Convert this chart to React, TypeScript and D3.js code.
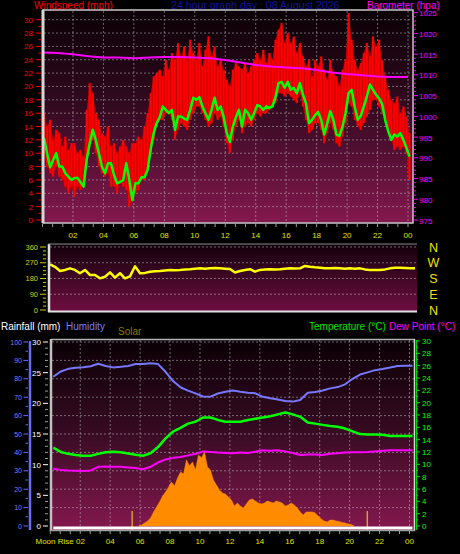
import React from "react";
import * as d3 from "d3";

// ---------- DATA ----------
const hourLabels = ["02", "04", "06", "08", "10", "12", "14", "16", "18", "20", "22", "00"];
const labelHours = [2, 4, 6, 8, 10, 12, 14, 16, 18, 20, 22, 24];

// wind (mph), sampled every 0.2 h starting 0.1 h
const windStartHour = 0.1;
const windStepHours = 0.2;
const windAvg = [
  12.3, 10.0, 7.9, 9.0, 10.0, 8.0, 8.0, 7.0, 6.5, 6.0,
  6.3, 6.3, 5.7, 5.0, 9.0, 11.5, 13.5, 12.0, 10.0, 8.0,
  7.0, 8.5, 8.5, 6.7, 5.5, 5.7, 6.0, 8.5, 6.0, 3.0,
  5.5, 5.5, 6.4, 6.4, 7.5, 10.5, 13.0, 14.5, 15.4, 17.0,
  16.5, 16.0, 16.5, 13.5, 15.5, 15.5, 15.2, 15.0, 16.5,
  18.3, 18.0, 18.4, 17.0, 16.0, 15.0, 16.5, 18.3, 16.5, 17.0,
  15.4, 13.0, 11.7, 14.0, 15.4, 16.5, 14.0, 16.5, 16.0, 15.0,
  16.0, 17.2, 17.0, 16.5, 17.0, 16.8, 17.0, 18.4, 20.5, 20.7,
  19.8, 20.7, 19.5, 19.8, 19.0, 20.5, 18.8, 17.5, 14.5, 15.0,
  15.7, 16.2, 15.0, 12.8, 14.5, 16.3, 15.0, 12.8, 12.6, 14.0,
  16.0, 19.0, 19.5, 17.0, 15.0, 15.6, 17.0, 18.5, 20.3,
  19.5, 18.8, 18.2, 17.4, 15.0, 13.3, 12.0, 12.8, 12.5, 13.0,
  12.0, 10.8, 9.5,
];
const gustHigh = [
  16, 14, 15, 12, 13.5, 13, 11, 12.5, 10.5, 11.5,
  11.5, 10, 10.5, 9.5, 16.5, 20.5, 19, 16, 15, 13,
  12.5, 14, 11, 11.5, 10, 11, 12, 11, 10, 11.5,
  11.5, 12.5, 12, 14, 16, 19, 21.5, 22, 22.5, 21.5,
  24, 22.5, 25, 24, 26.5, 24.5, 26, 24, 27, 25,
  24, 26.5, 23, 25.5, 27.5, 24.5, 26, 23, 24, 22.5,
  21, 20, 22.5, 23.5, 23, 22.5, 23.5, 22, 23, 24,
  25, 24, 25.5, 23.5, 25, 24, 27, 28.5, 29.5, 26.5,
  28, 26.5, 27.5, 25, 26.5, 24.5, 23, 24, 21.5, 24,
  23, 24.5, 22.5, 21, 24, 22, 21.5, 20, 22.5, 24,
  31, 27, 24, 22.5, 23.5, 25, 26.5, 24.5, 27.5, 26,
  27, 24, 21.5, 19.5, 18, 17.5, 18.5, 16, 17, 15.5,
  13,
];
const gustLow = [
  9.5, 8, 7, 6.5, 8, 6.5, 6, 5, 4, 5,
  3.5, 5, 4.5, 5, 8, 11, 12, 10, 8, 7,
  6.5, 7, 5, 5, 4, 5.5, 5, 4.5, 2, 3,
  4, 4.5, 6, 6, 8, 10, 12, 14, 15, 15,
  16, 16, 15, 12, 13.5, 14.5, 14, 13.5, 15, 16,
  17, 17, 16, 15, 14, 14.5, 16, 15, 15.5, 14,
  11.5, 10, 12, 14, 15, 13, 14, 14.5, 14, 15,
  16, 15.5, 16, 16, 16.5, 17, 17.5, 19, 19, 18.5,
  19, 18.5, 18, 17.5, 19, 17, 15, 13, 13.5, 14.5,
  14.5, 13.5, 11.5, 13, 14.5, 13.5, 11.5, 11, 12.5, 14.5,
  17.5, 17, 15, 14, 13.5, 14.5, 15.5, 16.5, 18, 18,
  17, 16, 15, 13.5, 12, 10.5, 11, 10.5, 11, 10,
  6,
];

// barometer (hPa), hourly
const baroHours = [0, 1, 2, 3, 4, 5, 6, 7, 8, 9, 10, 11, 12, 13, 14, 15, 16, 17, 18, 19, 20, 21, 22, 23, 24];
const baroHpa = [
  1015.4, 1015.3, 1015.0, 1014.5, 1014.2, 1014.2, 1014.0, 1014.2, 1014.3, 1014.3,
  1014.2, 1014.0, 1013.6, 1013.0, 1012.4, 1012.0, 1011.8, 1011.6, 1011.2, 1010.6,
  1010.2, 1009.9, 1009.6, 1009.5, 1009.5,
];

// wind direction (deg), every 20 minutes
const dirStartHour = 0;
const dirStepHours = 1 / 3;
const windDirDeg = [
  261, 247, 223, 229, 238, 229, 210, 229, 200, 200,
  181, 190, 215, 185, 210, 181, 192, 250, 210, 212,
  219, 222, 223, 226, 229, 227, 229, 232, 233, 236,
  238, 236, 238, 240, 238, 236, 234, 214, 223, 228,
  233, 219, 229, 231, 233, 232, 233, 236, 238, 237,
  238, 252, 247, 244, 242, 238, 238, 240, 238, 236,
  238, 236, 238, 232, 229, 229, 229, 232, 238, 242,
  242, 240, 238, 238,
];

// humidity / temperature / dew point, every 0.5 h starting 0.2 h
const thStartHour = 0.2;
const thStepHours = 0.5;
const humidityPct = [
  81.1, 84, 85.4, 86, 86.3, 86.8, 88.2, 87, 86.2, 86.5,
  87, 88, 88, 88.4, 88, 83.8, 78.8, 75.4, 73.6, 72.1,
  70.4, 70.3, 72, 73, 73.7, 73, 72.4, 72.1, 70.2, 69.4,
  68.8, 67.9, 67.6, 68.5, 72.4, 72.8, 73.6, 74.8, 75.5, 77,
  80, 82.3, 83.5, 84.7, 85.3, 86.1, 87, 87.1, 87.1,
];
const temperatureC = [
  12.7, 12.0, 11.7, 11.5, 11.4, 11.4, 11.7, 11.95, 12.05, 11.95,
  11.75, 11.55, 11.4, 11.8, 12.8, 14.2, 15.3, 15.9, 16.6, 16.9,
  17.6, 17.6, 17.2, 16.9, 16.9, 16.9, 17.2, 17.4, 17.6, 17.8,
  18.1, 18.4, 18.1, 17.7, 16.8, 16.6, 16.4, 16.2, 16.1, 15.8,
  15.35, 14.9, 14.85, 14.85, 14.8, 14.6, 14.6, 14.6, 14.6,
];
const dewPointC = [
  9.3, 9.1, 9.0, 8.95, 8.9, 9.0, 9.6, 9.65, 9.6, 9.6,
  9.5, 9.4, 9.2, 9.6, 10.3, 10.8, 11.05, 11.2, 11.45, 11.7,
  12.1, 12.0, 11.9, 11.85, 11.8, 11.9, 11.85, 12.05, 12.3, 12.2,
  12.3, 12.1, 11.85, 11.5, 11.6, 11.6, 11.5, 11.7, 11.8, 11.9,
  11.95, 11.95, 12.0, 12.1, 12.2, 12.3, 12.3, 12.3, 12.3,
];

// solar (W/m2), every 0.2 h from 5.9 h
const solarStartHour = 5.9;
const solarStepHours = 0.2;
const solarWm2 = [
  0, 5, 16, 27, 43, 76, 103, 130, 162, 184,
  211, 238, 216, 259, 292, 281, 357, 324, 346, 303,
  384, 368, 400, 319, 303, 249, 222, 195, 178, 173,
  157, 141, 108, 124, 108, 97, 119, 141, 146, 135,
  124, 119, 124, 135, 130, 124, 135, 130, 124, 108,
  114, 124, 114, 97, 76, 59, 76, 76, 76, 70,
  54, 38, 27, 22, 32, 32, 27, 24, 19, 16,
  11, 8, 0,
];

// rainfall (mm)
const rainHours = [0.2, 24.2];
const rainMm = [0, 0];

// sunrise / sunset markers (hours)
const sunEventHours = [5.47, 21.18];

// axis ticks
const windTicks = [0, 2, 4, 6, 8, 10, 12, 14, 16, 18, 20, 22, 24, 26, 28, 30];
const baroTicks = [975, 980, 985, 990, 995, 1000, 1005, 1010, 1015, 1020, 1025];
const dirTicks = [0, 90, 180, 270, 360];
const dirLetters = ["N", "E", "S", "W", "N"];
const humTicks = [0, 10, 20, 30, 40, 50, 60, 70, 80, 90, 100];
const rainTicks = [0, 5, 10, 15, 20, 25, 30];
const tempTicks = [0, 2, 4, 6, 8, 10, 12, 14, 16, 18, 20, 22, 24, 26, 28, 30];

// ---------- CHART ----------
const FONT = "'Liberation Sans', Arial, Helvetica, sans-serif";
const GRID = { stroke: "#b8b8b8", strokeOpacity: 0.55, strokeDasharray: "2,2", strokeWidth: 1 };

export default function App() {
  // top panel
  const xTop = d3.scaleLinear().domain([0, 24]).range([42.5, 408]);
  const yWind = d3.scaleLinear().domain([0, 30]).range([220, 19.7]);
  const yBaro = d3.scaleLinear().domain([975, 1025]).range([220, 12.7]);
  // middle panel
  const xMid = d3.scaleLinear().domain([0, 24]).range([50, 410]);
  const yDir = d3.scaleLinear().domain([0, 360]).range([310, 247]);
  // bottom panel
  const xBot = d3.scaleLinear().domain([0, 24]).range([50.3, 409.5]);
  const yHum = d3.scaleLinear().domain([0, 100]).range([526, 342]);
  const yRain = d3.scaleLinear().domain([0, 30]).range([526, 342]);
  const yTemp = d3.scaleLinear().domain([0, 30]).range([526, 341]);
  const ySolar = d3.scaleLinear().domain([0, 1000]).range([526, 341]);

  const windT = (i: number) => windStartHour + i * windStepHours;
  const thT = (i: number) => thStartHour + i * thStepHours;

  const windLine = d3.line<number>().x((_, i) => xTop(windT(i))).y((d) => yWind(d));
  const baroLine = d3.line<number>().x((_, i) => xTop(baroHours[i])).y((d) => yBaro(d));
  const dirLine = d3.line<number>().x((_, i) => xMid(dirStartHour + i * dirStepHours)).y((d) => yDir(d));
  const humLine = d3.line<number>().x((_, i) => xBot(thT(i))).y((d) => yHum(d));
  const tempLine = d3.line<number>().x((_, i) => xBot(thT(i))).y((d) => yTemp(d));
  const dewLine = d3.line<number>().x((_, i) => xBot(thT(i))).y((d) => yTemp(d));
  const solarArea = d3
    .area<number>()
    .x((_, i) => xBot(solarStartHour + i * solarStepHours))
    .y0(ySolar(0))
    .y1((d) => ySolar(d));
  const gustBand = d3
    .area<number>()
    .x((_, i) => xTop(windT(i)))
    .y0((_, i) => yWind(gustLow[i]))
    .y1((d) => yWind(d));
  const rainLine = d3.line<number>().x((_, i) => xBot(rainHours[i])).y((d) => yRain(d) + 2);

  const binW = xTop(windStepHours) - xTop(0);

  const minorTop = d3.range(0, 24.5, 2 / 3);
  const minorBot = d3.range(0, 24.3, 2 / 3);

  return (
    <svg
      width={460}
      height={554}
      style={{ position: "absolute", left: 0, top: 0, display: "block" }}
      fontFamily={FONT}
    >
      <defs>
        <linearGradient id="gTop" x1="0" y1="0" x2="0" y2="1">
          <stop offset="0" stopColor="#0a0005" />
          <stop offset="0.45" stopColor="#330a20" />
          <stop offset="1" stopColor="#84184e" />
        </linearGradient>
        <linearGradient id="gMid" x1="0" y1="0" x2="0" y2="1">
          <stop offset="0" stopColor="#12000a" />
          <stop offset="1" stopColor="#700e42" />
        </linearGradient>
        <linearGradient id="gBot" x1="0" y1="0" x2="0" y2="1">
          <stop offset="0" stopColor="#0a0005" />
          <stop offset="0.45" stopColor="#330a20" />
          <stop offset="1" stopColor="#84184e" />
        </linearGradient>
      </defs>
      <rect x={0} y={0} width={460} height={554} fill="#000" />

      {/* ---------------- TOP PANEL ---------------- */}
      <text x={34} y={8.5} fontSize={10} fill="#ff0000">Windspeed (mph)</text>
      <text x={171} y={8.5} fontSize={10.6} fill="#1414a0">24 hour graph day : 08 August 2026</text>
      <text x={367} y={8.5} fontSize={10} fill="#ff00ff">Barometer (hpa)</text>

      <rect x={43} y={10} width={370} height={213} fill="url(#gTop)" />
      {windTicks.filter((t) => t > 0).map((t) => (
        <line key={"hg" + t} x1={44} x2={412} y1={yWind(t)} y2={yWind(t)} {...GRID} />
      ))}
      {labelHours.map((h) => (
        <line key={"vg" + h} x1={xTop(h)} x2={xTop(h)} y1={11} y2={222} {...GRID} />
      ))}

      {/* gust band (darker) + spikes */}
      <path d={gustBand(gustHigh) || ""} fill="#c00000" />
      {gustHigh.map((hi, i) => (
        <rect
          key={"g" + i}
          x={xTop(windT(i)) - binW * 0.35}
          y={yWind(hi)}
          width={binW * 0.7}
          height={yWind(gustLow[i]) - yWind(hi)}
          fill="#ff0000"
        />
      ))}
      <path d={baroLine(baroHpa) || ""} fill="none" stroke="#ff00ff" strokeWidth={2} />
      <path d={windLine(windAvg) || ""} fill="none" stroke="#00ff00" strokeWidth={2.5} strokeLinejoin="round" />

      {/* frame */}
      <rect x={43} y={10} width={370} height={213} fill="none" stroke="#c8c8c8" strokeWidth={1.5} />
      <line x1={43} x2={43} y1={10} y2={223} stroke="#d8d8d8" strokeWidth={3} />

      {/* left wind axis */}
      {d3.range(0, 31, 1).map((t) => (
        <line key={"wt" + t} x1={t % 2 === 0 ? 36 : 38.5} x2={41} y1={yWind(t)} y2={yWind(t)} stroke="#ff0000" strokeWidth={1} />
      ))}
      {windTicks.map((t) => (
        <text key={"wl" + t} x={33} y={yWind(t) + 3} fontSize={8} fill="#ff0000" textAnchor="end">{t}</text>
      ))}
      {/* right baro axis */}
      {d3.range(975, 1026, 1).map((t) => (
        <line key={"bt" + t} x1={414} x2={t % 5 === 0 ? 418 : 416} y1={yBaro(t)} y2={yBaro(t)} stroke="#ff00ff" strokeWidth={1} />
      ))}
      {baroTicks.map((t) => (
        <text key={"bl" + t} x={419} y={yBaro(t) + 3.5} fontSize={8} fill="#ff00ff">{t}</text>
      ))}
      {/* time axis */}
      {minorTop.map((h, i) => (
        <line key={"mt" + i} x1={xTop(h)} x2={xTop(h)} y1={224} y2={227} stroke="#9a9a9a" strokeWidth={1} />
      ))}
      {labelHours.map((h, i) => (
        <text key={"tl" + h} x={xTop(h)} y={237.5} fontSize={8} fill="#e0e000" textAnchor="middle">{hourLabels[i]}</text>
      ))}

      {/* ---------------- MIDDLE PANEL ---------------- */}
      <rect x={48} y={244} width={369} height={68} fill="url(#gMid)" />
      {dirTicks.filter((t) => t > 0).map((t) => (
        <line key={"dg" + t} x1={50} x2={416} y1={yDir(t)} y2={yDir(t)} {...GRID} />
      ))}
      <path d={dirLine(windDirDeg) || ""} fill="none" stroke="#ffff00" strokeWidth={2.5} strokeLinejoin="round" />
      <line x1={49} x2={49} y1={244} y2={312} stroke="#e0e0e0" strokeWidth={2.5} />
      <line x1={48} x2={417} y1={311.5} y2={311.5} stroke="#e0e0e0" strokeWidth={2} />
      <line x1={48} x2={417} y1={244} y2={244} stroke="#8a8a8a" strokeWidth={1} />
      {d3.range(0, 361, 22.5).map((t) => (
        <line key={"dt" + t} x1={t % 90 === 0 ? 40 : 43} x2={46} y1={yDir(t)} y2={yDir(t)} stroke="#c8c800" strokeWidth={1} />
      ))}
      {dirTicks.map((t) => (
        <text key={"dl" + t} x={38} y={yDir(t) + 2.7} fontSize={7.5} fill="#d0d000" textAnchor="end">{t}</text>
      ))}
      {dirTicks.map((t, i) => (
        <text key={"dn" + t} x={433.5} y={yDir(t) + 4.5} fontSize={12.5} fill="#f0e000" textAnchor="middle">{dirLetters[i]}</text>
      ))}

      {/* ---------------- BOTTOM PANEL ---------------- */}
      <text x={1} y={329.5} fontSize={10} fill="#ffffff">Rainfall (mm)</text>
      <text x={66} y={329.5} fontSize={10} fill="#7c7cff">Humidity</text>
      <text x={118} y={334.5} fontSize={10} fill="#8a7a00">Solar</text>
      <text x={309} y={329.5} fontSize={10} fill="#00e800">Temperature (°C)</text>
      <text x={389} y={329.5} fontSize={10} fill="#ff00ff">Dew Point (°C)</text>

      <rect x={51} y={339} width={364} height={191} fill="url(#gBot)" />
      {humTicks.filter((t) => t > 0).map((t) => (
        <line key={"hg2" + t} x1={52} x2={414} y1={yHum(t)} y2={yHum(t)} {...GRID} />
      ))}
      {labelHours.map((h) => (
        <line key={"vg2" + h} x1={xBot(h)} x2={xBot(h)} y1={340} y2={529} {...GRID} />
      ))}

      <path d={solarArea(solarWm2) || ""} fill="#ff8c00" stroke="#ff8c00" strokeWidth={0.5} />
      {sunEventHours.map((h) => (
        <line key={"sun" + h} x1={xBot(h)} x2={xBot(h)} y1={511} y2={530} stroke="#d8a020" strokeWidth={1.5} />
      ))}
      <path d={humLine(humidityPct) || ""} fill="none" stroke="#7878ff" strokeWidth={2} strokeLinejoin="round" />
      <path d={tempLine(temperatureC) || ""} fill="none" stroke="#00ff00" strokeWidth={2.5} strokeLinejoin="round" />
      <path d={dewLine(dewPointC) || ""} fill="none" stroke="#ff00ff" strokeWidth={2} strokeLinejoin="round" />
      <path d={rainLine(rainMm) || ""} fill="none" stroke="#ffffff" strokeWidth={3} />

      {/* frame */}
      <line x1={51} x2={415} y1={339.5} y2={339.5} stroke="#b0b0b0" strokeWidth={1.5} />
      <line x1={51} x2={51} y1={339} y2={531} stroke="#c0c0c0" strokeWidth={2.5} />
      <line x1={414.5} x2={414.5} y1={339} y2={531} stroke="#d8d8d8" strokeWidth={1.5} />
      <line x1={51} x2={415} y1={530.5} y2={530.5} stroke="#a0a0a0" strokeWidth={1.5} />

      {/* humidity axis */}
      <line x1={30} x2={30} y1={341} y2={530} stroke="#6a6aff" strokeWidth={2.5} />
      {d3.range(0, 101, 5).map((t) => (
        <line key={"ht" + t} x1={t % 10 === 0 ? 23.5 : 25.5} x2={28} y1={yHum(t)} y2={yHum(t)} stroke="#6a6aff" strokeWidth={1} />
      ))}
      {humTicks.map((t) => (
        <text key={"hl" + t} x={22} y={yHum(t) + 2.6} fontSize={7} fill="#7c7cff" textAnchor="end">{t}</text>
      ))}
      {/* rain axis */}
      {d3.range(0, 31, 1).map((t) => (
        <line key={"rt" + t} x1={t % 5 === 0 ? 43 : 45} x2={48} y1={yRain(t)} y2={yRain(t)} stroke={t % 5 === 0 ? "#ffffff" : "#9a9a9a"} strokeWidth={1} />
      ))}
      {rainTicks.map((t) => (
        <text key={"rl" + t} x={41} y={yRain(t) + 3} fontSize={8} fill="#ffffff" textAnchor="end">{t}</text>
      ))}
      {/* temperature axis */}
      <line x1={416.5} x2={416.5} y1={340} y2={530} stroke="#00d000" strokeWidth={1.5} />
      {d3.range(0, 31, 1).map((t) => (
        <line key={"tt" + t} x1={416} x2={t % 2 === 0 ? 420 : 418} y1={yTemp(t)} y2={yTemp(t)} stroke="#00e000" strokeWidth={1} />
      ))}
      {tempTicks.map((t) => (
        <text key={"tl2" + t} x={422} y={yTemp(t) + 3} fontSize={8} fill="#00ff00">{t}</text>
      ))}
      {/* time axis */}
      {minorBot.map((h, i) => (
        <line key={"mb" + i} x1={xBot(h)} x2={xBot(h)} y1={531} y2={534} stroke="#9a9a9a" strokeWidth={1} />
      ))}
      {labelHours.map((h, i) =>
        i === 0 ? (
          <text key={"bl2" + h} x={xBot(h) + 4.6} y={544} fontSize={8} fill="#e0e000" textAnchor="end">
            {"Moon Rise " + hourLabels[i]}
          </text>
        ) : (
          <text key={"bl2" + h} x={xBot(h)} y={544} fontSize={8} fill="#e0e000" textAnchor="middle">{hourLabels[i]}</text>
        )
      )}
    </svg>
  );
}
